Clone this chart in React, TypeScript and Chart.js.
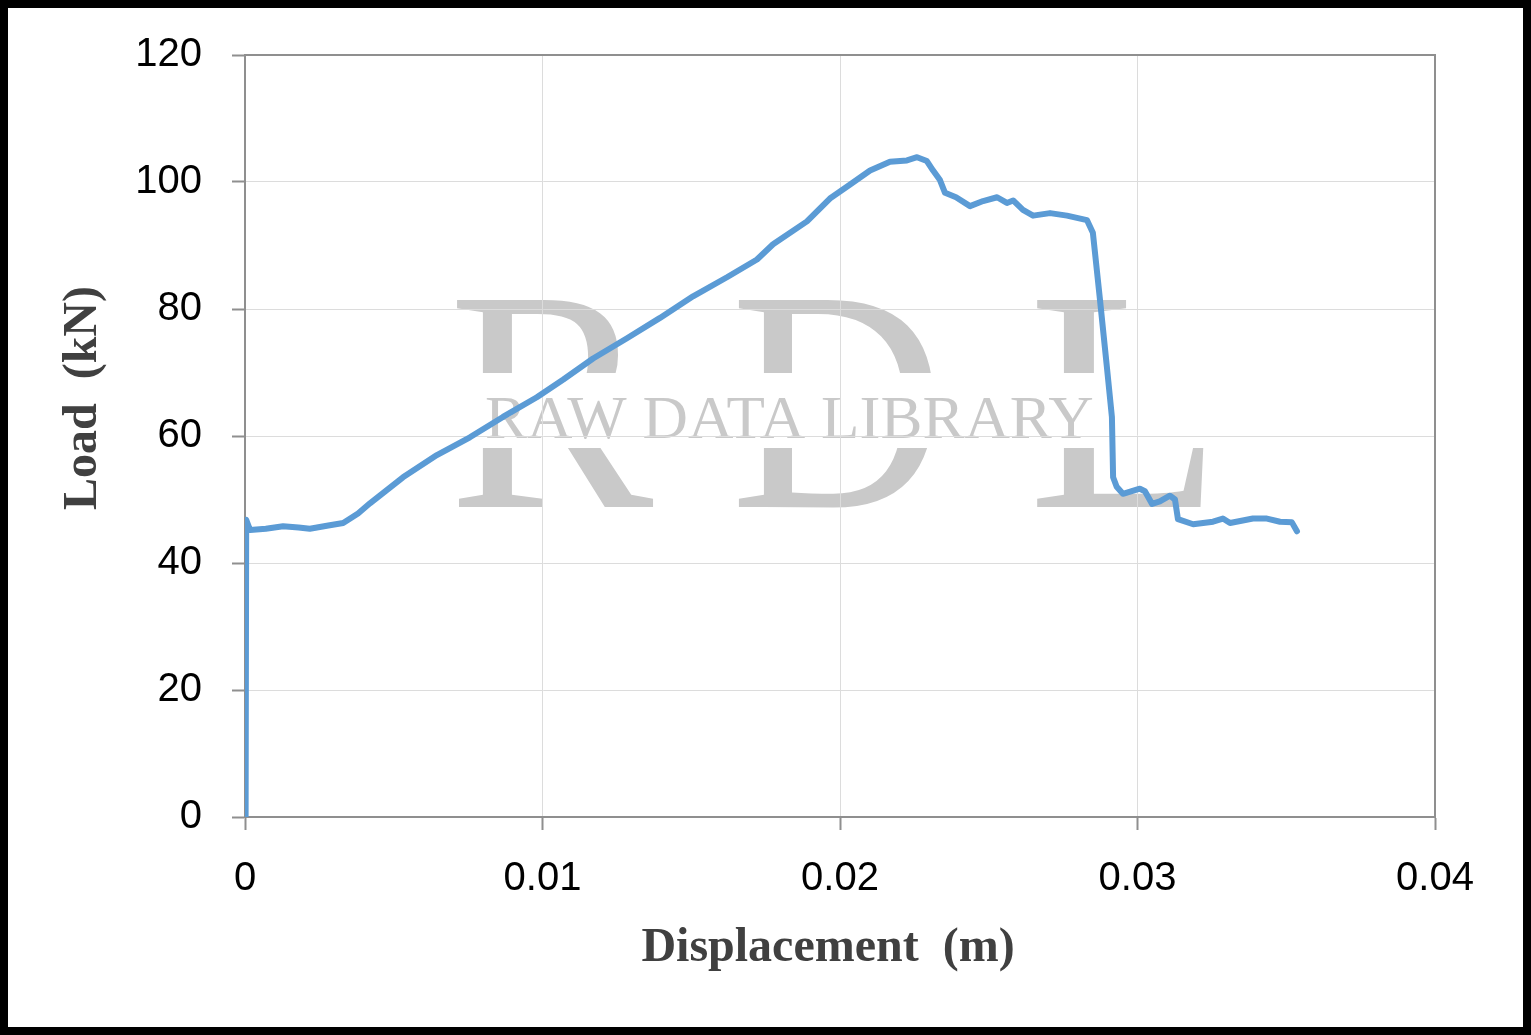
import React, { useEffect, useRef } from "react";
import { Chart, registerables } from "chart.js";

Chart.register(...registerables);

// Displacement (m) and Load (kN)
const displacement = [
  0.00002, 0.00004, 0.00017, 0.0007, 0.00128, 0.0018, 0.00218, 0.0028, 0.0033, 0.0038,
  0.0042, 0.00531, 0.00645, 0.00756, 0.00867, 0.00981, 0.0107, 0.0117, 0.01284, 0.01395,
  0.01506, 0.0162, 0.01721, 0.01775, 0.01889, 0.01966, 0.02034, 0.02101, 0.02168, 0.02225,
  0.02259, 0.02292, 0.02313, 0.02336, 0.02353, 0.0239, 0.02437, 0.02481, 0.02528, 0.02561,
  0.02582, 0.02615, 0.02649, 0.02706, 0.02763, 0.0283, 0.0285, 0.02874, 0.02897, 0.02914,
  0.02918, 0.0293, 0.02951, 0.03008, 0.03025, 0.03049, 0.03075, 0.03109, 0.03126, 0.03136,
  0.03187, 0.03254, 0.03287, 0.03311, 0.03388, 0.03435, 0.03479, 0.03519, 0.03536,
];
const load = [
  0, 46.8, 45.2, 45.4, 45.8, 45.6, 45.4, 45.9, 46.3, 47.8,
  49.4, 53.5, 57.0, 59.8, 63.0, 66.1, 68.9, 72.2, 75.4, 78.6,
  82.0, 85.0, 87.8, 90.2, 93.8, 97.4, 99.6, 101.8, 103.2, 103.4,
  103.9, 103.3, 101.8, 100.3, 98.3, 97.6, 96.2, 97.0, 97.6, 96.7,
  97.1, 95.6, 94.7, 95.1, 94.7, 94.0, 92.0, 81.4, 70.9, 63.0,
  53.5, 52.0, 50.9, 51.7, 51.3, 49.3, 49.7, 50.6, 50.0, 46.9,
  46.1, 46.5, 47.0, 46.3, 47.0, 47.0, 46.5, 46.4, 45.0,
];
const xTickLabels = ["0", "0.01", "0.02", "0.03", "0.04"];
const yTickLabels = ["0", "20", "40", "60", "80", "100", "120"];
const xTitle = "Displacement  (m)";
const yTitle = "Load  (kN)";
const watermarkLetters = ["R", "D", "L"];
const watermarkText = "RAW DATA LIBRARY";

const watermarkPlugin = {
  id: "watermark",
  beforeDraw(chart: any) {
    const ctx = chart.ctx as CanvasRenderingContext2D;
    const W = chart.width;
    const H = chart.height;
    ctx.save();
    ctx.fillStyle = "#c9c9c9";
    ctx.save();
    ctx.beginPath();
    ctx.rect(0, 0, W, 365);
    ctx.rect(0, 440, W, H - 440);
    ctx.clip();
    ctx.font = '316px "Liberation Serif"';
    ctx.textBaseline = "alphabetic";
    ctx.textAlign = "left";
    const lefts = [445, 727, 1025];
    const widths = [202, 200, 174];
    watermarkLetters.forEach((ch, i) => {
      const m = ctx.measureText(ch);
      const gw = m.actualBoundingBoxLeft + m.actualBoundingBoxRight;
      const sx = widths[i] / gw;
      ctx.save();
      ctx.translate(lefts[i], 499);
      ctx.scale(sx, 1);
      ctx.fillText(ch, m.actualBoundingBoxLeft, 0);
      ctx.restore();
    });
    ctx.restore();
    ctx.font = '62px "Liberation Serif"';
    const m2 = ctx.measureText(watermarkText);
    const gw2 = m2.actualBoundingBoxLeft + m2.actualBoundingBoxRight;
    ctx.translate(478, 430);
    ctx.scale(607 / gw2, 1);
    ctx.fillText(watermarkText, m2.actualBoundingBoxLeft, 0);
    ctx.restore();
  },
};

const frameAndTitles = {
  id: "frameAndTitles",
  beforeDatasetsDraw(chart: any) {
    const { ctx, chartArea } = chart;
    ctx.save();
    ctx.strokeStyle = "#8f8f8f";
    ctx.lineWidth = 2;
    ctx.beginPath();
    ctx.moveTo(chartArea.left, chartArea.top);
    ctx.lineTo(chartArea.right, chartArea.top);
    ctx.lineTo(chartArea.right, chartArea.bottom);
    ctx.stroke();
    ctx.restore();
  },
  afterDraw(chart: any) {
    const ctx = chart.ctx as CanvasRenderingContext2D;
    ctx.save();
    ctx.fillStyle = "#404040";
    ctx.font = 'bold 48px "Liberation Serif"';
    ctx.textAlign = "center";
    ctx.textBaseline = "alphabetic";
    ctx.fillText(xTitle, 820, 953);
    ctx.translate(88, 390);
    ctx.rotate(-Math.PI / 2);
    ctx.fillText(yTitle, 0, 0);
    ctx.restore();
  },
};

export default function App() {
  const ref = useRef<HTMLCanvasElement>(null);
  useEffect(() => {
    if (!ref.current) return;
    const points = displacement.map((x, i) => ({ x, y: load[i] }));
    const tickFont = { family: '"Liberation Sans"', size: 40 };
    const chart = new Chart(ref.current, {
      type: "line",
      data: {
        datasets: [
          {
            data: points,
            borderColor: "#5b9bd5",
            backgroundColor: "#5b9bd5",
            borderWidth: 6,
            pointRadius: 0,
            tension: 0,
            fill: false,
            borderJoinStyle: "round",
            borderCapStyle: "round",
          },
        ],
      },
      options: {
        responsive: false,
        animation: false,
        devicePixelRatio: 1,
        layout: { padding: { top: 47, right: 88, left: 0, bottom: 0 } },
        plugins: { legend: { display: false }, tooltip: { enabled: false } },
        scales: {
          x: {
            type: "linear",
            min: 0,
            max: 0.04,
            afterFit: (s: any) => {
              s.height = 210;
              s.paddingLeft = 0;
              s.paddingRight = 0;
            },
            ticks: {
              stepSize: 0.01,
              autoSkip: false,
              maxRotation: 0,
              padding: 25,
              color: "#000",
              font: tickFont,
              callback: (_v: any, i: number) => xTickLabels[i] ?? "",
            },
            grid: { color: "#dcdcdc", lineWidth: 1, tickLength: 13, tickColor: "#8f8f8f", tickWidth: 2 },
            border: { color: "#8f8f8f", width: 2 },
          },
          y: {
            min: 0,
            max: 120,
            afterFit: (s: any) => {
              s.width = 237;
              s.paddingTop = 0;
              s.paddingBottom = 0;
            },
            ticks: {
              stepSize: 20,
              padding: 30,
              color: "#000",
              font: tickFont,
              callback: (_v: any, i: number) => yTickLabels[i] ?? "",
            },
            grid: { color: "#dcdcdc", lineWidth: 1, tickLength: 13, tickColor: "#8f8f8f", tickWidth: 2 },
            border: { color: "#8f8f8f", width: 2 },
          },
        },
      },
      plugins: [watermarkPlugin, frameAndTitles],
    });
    return () => chart.destroy();
  }, []);
  return (
    <div
      style={{
        position: "fixed",
        left: 0,
        top: 0,
        width: 1531,
        height: 1035,
        boxSizing: "border-box",
        border: "8px solid #000",
        background: "#fff",
      }}
    >
      <canvas ref={ref} width={1515} height={1019} style={{ display: "block" }} />
    </div>
  );
}
